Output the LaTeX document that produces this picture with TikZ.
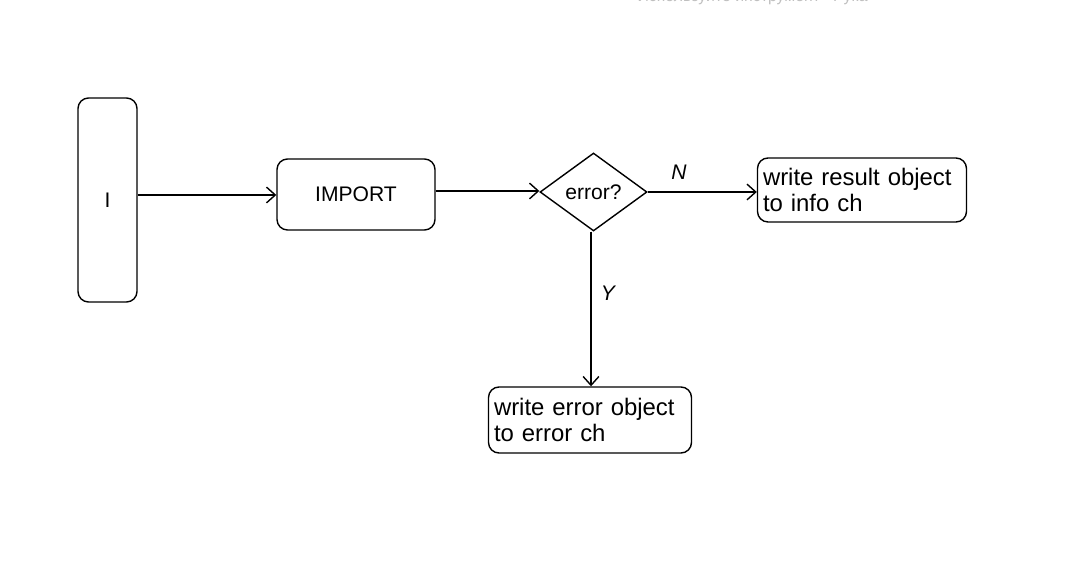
\documentclass[tikz,border=0pt]{standalone}
\usepackage{fontspec}
\setmainfont{Liberation Sans}
\usepackage{tikz}
\usetikzlibrary{arrows.meta,shapes.geometric}

\tikzset{
  block/.style={draw, line width=0.8pt, rounded corners=6pt, inner sep=2pt, font=\large},
  note/.style={block, align=left, font=\fontsize{13.6}{14.6}\selectfont},
  decision/.style={draw, line width=0.8pt, diamond, aspect=1.37, inner sep=1pt, font=\large},
  flow/.style={line width=0.8pt, -{Straight Barb[length=5pt,width=9pt]}},
  lbl/.style={font=\large\itshape}
}

\begin{document}
\begin{tikzpicture}[x=0.02cm, y=-0.02cm]
\useasboundingbox[fill=white] (0,0) rectangle (1071,563);
% hint text of the editor, cut at the top edge
\node[text=black!25, font=\small] (hint) at (757,-3) {Используйте инструмент «Рука»};

\node[block, minimum width=59*0.02cm, minimum height=204*0.02cm] (in) at (107.5,200) {I};
\node[block, minimum width=158*0.02cm, minimum height=71*0.02cm] (imp) at (356,194.5) {IMPORT};
\node[decision, minimum width=107*0.02cm, minimum height=78*0.02cm] (err) at (593.5,192) {error?};
\node[note, minimum width=209*0.02cm, minimum height=64*0.02cm, text width=198*0.02cm] (res) at (862,190)
  {write result object\\to info ch};
\node[note, minimum width=203*0.02cm, minimum height=66*0.02cm, text width=192*0.02cm] (eout) at (590,420)
  {write error object\\to error ch};

\draw[flow] (in.east |- 0,195) -- (imp.west |- 0,195);
\draw[flow] (imp.east |- 0,191) -- (err.west |- 0,191);
\draw[flow] (err.east) -- (res.west |- err.east);
\draw[flow] (err.south -| 591,0) -- (eout.north -| 591,0);

\node[lbl] (n) at (679,172) {N};
\node[lbl] (y) at (608,293) {Y};
\end{tikzpicture}
\end{document}
